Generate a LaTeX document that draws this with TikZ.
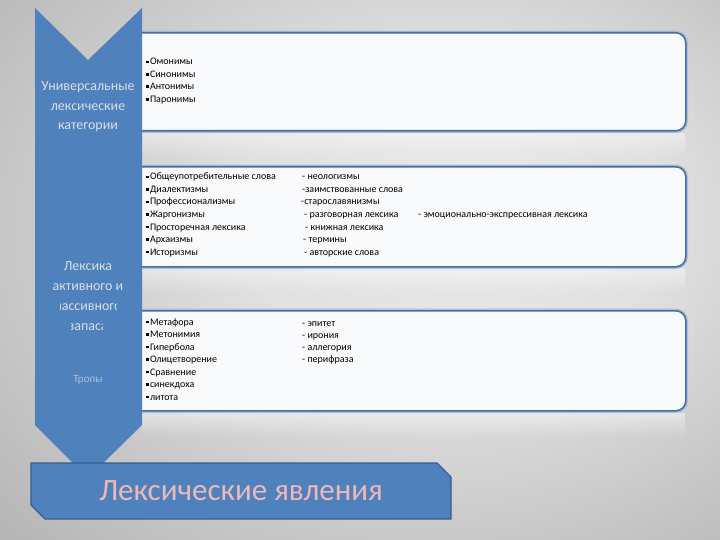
\documentclass[tikz,border=0pt]{standalone}
\usepackage{fontspec}
\setmainfont{Carlito}
\usetikzlibrary{shapes.misc, fadings, positioning}

\definecolor{colblue}{HTML}{4F81BD}
\definecolor{edgeblue}{HTML}{4A6E9E}
\definecolor{glowblue}{HTML}{A9BEDC}
\definecolor{darkblue}{HTML}{385D8A}
\definecolor{boxwhite}{HTML}{F9FAFC}
\definecolor{pale}{HTML}{D9DFE8}
\definecolor{tropy}{HTML}{A9C2E2}
\definecolor{titlepink}{HTML}{EDB8B8}

\pgfdeclareradialshading{slidebg}{\pgfpoint{8bp}{6bp}}{color(0bp)=(black!8); color(15bp)=(black!12); color(50bp)=(black!36); color(72bp)=(black!40)}

\newcommand{\sqb}{\rule[0.35ex]{2.8pt}{2.8pt}\hspace{1pt}}

\begin{document}
\begin{tikzpicture}
	[
		x=1pt, y=-1pt,
		list box/.style={draw=edgeblue, line width=1.6pt, fill=boxwhite, rounded corners=10pt, anchor=north west, inner sep=0pt, preaction={draw=glowblue, line width=4.5pt}},
		item/.style={anchor=base west, inner sep=0pt, font=\fontsize{10}{12}\selectfont},
		side text/.style={align=center, text=pale, inner sep=0pt, font=\fontsize{14}{19.5}\selectfont},
		title box/.style={chamfered rectangle, chamfered rectangle corners={north east, south west}, chamfered rectangle sep=7pt, draw=darkblue, line width=1.4pt, fill=colblue, minimum width=420pt, minimum height=56pt, text=titlepink, font=\fontsize{31}{34}\selectfont}
	]
	\useasboundingbox (0,0) rectangle (720,540);
	\shade[shading=slidebg] (0,0) rectangle (720,540);

	\foreach \ytop in {133,268,413}
		\fill[white, opacity=.45, path fading=south] (142,\ytop) rectangle (685,\ytop+24);

	\node[list box, minimum width=565pt, minimum height=98pt] (univbox) at (120,32) {};
	\node[list box, minimum width=565pt, minimum height=100pt] (lexbox) at (120,166) {};
	\node[list box, minimum width=565pt, minimum height=100pt] (tropbox) at (120,310) {};

	\fill[colblue] (35,8) -- (88,60) -- (142,8) -- (142,425) -- (88,478) -- (35,425) -- cycle;

	\node[side text] (univ) at (88,107) {Универсальные\\лексические\\категории};
	\node[side text, anchor=base] (lex) at (88,290) {Лексика\\активного и};
	\begin{scope}
		\clip (60,292) rectangle (116,313);
		\node[side text, anchor=base] (pass) at (88,310) {пассивного};
	\end{scope}
	\begin{scope}
		\clip (71,313) rectangle (102,336);
		\node[side text, anchor=base] (zapas) at (88,330) {запаса};
	\end{scope}
	\node[side text, text=tropy, font=\fontsize{11}{13}\selectfont] (tropy) at (88,380) {Тропы};

	\foreach \t [count=\i] in {Омонимы, Синонимы, Антонимы, Паронимы}
		\node[item] (u\i) at (146,65+12.4*\i-12.4) {\sqb\t};

	\foreach \t [count=\i] in {Общеупотребительные слова, Диалектизмы, Профессионализмы, Жаргонизмы, Просторечная лексика, Архаизмы, Историзмы}
		\node[item] (a\i) at (146,180+12.5*\i-12.5) {\sqb\t};
	\foreach \t/\x [count=\i] in {- неологизмы/302, -заимствованные слова/302, -старославянизмы/301, - разговорная лексика/304, - книжная лексика/305, - термины/303, - авторские слова/304}
		\node[item] (b\i) at (\x,180+12.5*\i-12.5) {\t};
	\node[item] (emo) at (418,217.5) {- эмоционально-экспрессивная лексика};

	\foreach \t [count=\i] in {Метафора, Метонимия, Гипербола, Олицетворение, Сравнение, синекдоха, литота}
		\node[item] (t\i) at (146,325+12.5*\i-12.5) {\sqb\t};
	\foreach \t [count=\i] in {- эпитет, - ирония, - аллегория, - перифраза}
		\node[item] (f\i) at (302,326+12.3*\i-12.3) {\t};

	\node[title box] (title) at (241,491) {Лексические явления};
\end{tikzpicture}
\end{document}
